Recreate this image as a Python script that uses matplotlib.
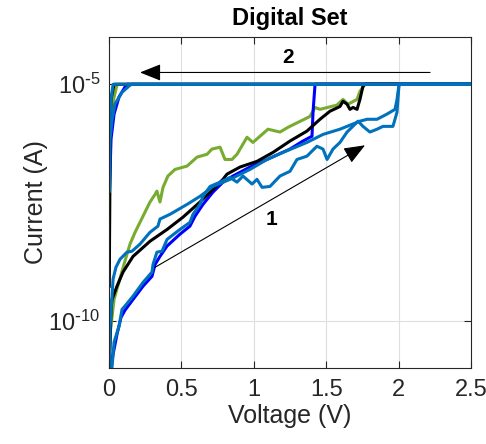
import numpy as np
import matplotlib
matplotlib.use("Agg")
import matplotlib.pyplot as plt
from matplotlib.ticker import FixedLocator, FixedFormatter, NullLocator

plt.rcParams['font.family'] = ['Liberation Sans', 'DejaVu Sans']
plt.rcParams['mathtext.default'] = 'regular'
plt.rcParams['axes.unicode_minus'] = False

# ---- data: voltage (V) and log10(current / A) ----
green_v = [0.0, 0.007, 0.035, 0.055, 0.110, 0.145, 0.180, 0.214, 0.283, 0.318, 0.331, 0.352, 0.373,
           0.407, 0.456, 0.539, 0.608, 0.677, 0.711, 0.767, 0.801, 0.849, 0.884, 0.953, 0.994, 1.098,
           1.181, 1.236, 1.388, 1.423, 1.457, 1.574, 1.616, 1.651, 1.713, 1.733, 1.768, 2.5,
           0.06, 0.055, 0.035, 0.014, 0.007, 0.002]
green_log = [-11.3, -10.29, -9.55, -9.33, -8.74, -8.38, -8.13, -7.92, -7.49, -7.33, -7.26, -7.49, -7.18,
             -6.94, -6.80, -6.73, -6.54, -6.48, -6.37, -6.33, -6.59, -6.59, -6.48, -6.12, -6.23, -5.95,
             -6.01, -5.91, -5.68, -5.49, -5.53, -5.44, -5.32, -5.42, -5.32, -5.15, -5.0, -5.0,
             -5.0, -5.02, -5.27, -5.70, -6.48, -8.76]

black_v = [0.0, 0.014, 0.021, 0.055, 0.097, 0.166, 0.283, 0.401, 0.511, 0.628, 0.698, 0.787, 0.815,
           0.905, 1.022, 1.133, 1.250, 1.367, 1.457, 1.526, 1.595, 1.616, 1.644, 1.664, 1.685, 1.713,
           1.733, 1.754, 1.768, 2.5,
           0.035, 0.014, 0.007, 0.003, 0.002]
black_log = [-11.3, -9.76, -9.55, -9.27, -8.97, -8.64, -8.32, -8.07, -7.81, -7.49, -7.28, -7.01, -6.90,
             -6.75, -6.63, -6.44, -6.20, -5.99, -5.74, -5.57, -5.47, -5.36, -5.42, -5.53, -5.49, -5.53,
             -5.32, -5.04, -5.0, -5.0,
             -5.0, -5.32, -6.16, -8.76, -9.27]

dblue_v = [0.0, 0.028, 0.055, 0.083, 0.110, 0.166, 0.235, 0.297, 0.318, 0.352, 0.401, 0.490, 0.559,
           0.594, 0.649, 0.718, 0.787, 0.856, 0.974, 1.091, 1.250, 1.340, 1.388, 1.402, 1.409, 1.423, 2.5,
           0.124, 0.110, 0.069, 0.035, 0.014, 0.003, 0.002]
dblue_log = [-11.3, -10.71, -10.29, -9.93, -9.78, -9.55, -9.27, -9.06, -8.81, -8.64, -8.42, -8.17, -8.00,
             -7.79, -7.54, -7.28, -7.07, -6.94, -6.75, -6.59, -6.37, -6.20, -6.12, -6.10, -5.59, -5.0, -5.0,
             -5.0, -5.06, -5.27, -5.63, -6.16, -7.28, -7.79]

lblueA_v = [0.0, 0.007, 0.014, 0.021, 0.028, 0.048, 0.076, 0.124, 0.159, 0.214, 0.283, 0.338, 0.352,
            0.421, 0.539, 0.628, 0.677, 0.718, 0.836, 0.974, 1.091, 1.202, 1.367, 1.478, 1.595, 1.733,
            1.782, 1.851, 1.920, 1.975, 1.989, 2.003, 2.5,
            0.159, 0.145, 0.090, 0.041, 0.021, 0.007, 0.003]
lblueA_log = [-11.3, -10.18, -9.76, -9.48, -9.12, -8.87, -8.70, -8.55, -8.53, -8.38, -8.13, -8.00, -7.85,
              -7.75, -7.54, -7.37, -7.26, -7.16, -7.01, -6.80, -6.59, -6.44, -6.23, -6.06, -5.95, -5.78,
              -5.74, -5.74, -5.63, -5.53, -5.32, -5.0, -5.0,
              -5.0, -5.02, -5.17, -5.42, -5.76, -6.16, -7.26]

lblueB_v = [0.0, 0.021, 0.035, 0.069, 0.090, 0.110, 0.166, 0.235, 0.297, 0.304, 0.331, 0.366, 0.401,
            0.490, 0.559, 0.580, 0.628, 0.649, 0.698, 0.767, 0.836, 0.884, 0.925, 0.988, 1.022, 1.057,
            1.112, 1.181, 1.250, 1.298, 1.367, 1.436, 1.478, 1.506, 1.547, 1.595, 1.644, 1.720, 1.754,
            1.802, 1.851, 1.892, 1.961, 1.989, 2.003, 2.5,
            0.028, 0.014, 0.007, 0.002]
lblueB_log = [-11.3, -10.98, -10.45, -10.12, -9.76, -9.69, -9.48, -9.19, -8.97, -8.81, -8.55, -8.53, -8.28,
              -8.07, -7.92, -7.75, -7.54, -7.37, -7.16, -7.07, -6.97, -7.07, -6.94, -7.11, -7.01, -7.18,
              -7.16, -6.94, -6.84, -6.59, -6.52, -6.31, -6.37, -6.59, -6.37, -6.23, -6.01, -5.78, -5.89,
              -6.01, -5.95, -5.89, -5.89, -5.59, -5.0, -5.0,
              -5.0, -5.32, -5.74, -6.27]

x_ticks = [0, 0.5, 1, 1.5, 2, 2.5]
x_tick_labels = ['0', '0.5', '1', '1.5', '2', '2.5']
y_ticks = [1e-10, 1e-5]
y_tick_labels = [r'$10^{\text{-}10}$', r'$10^{\text{-}5}$']

arrow1_start = (0.318, -8.87)
arrow1_end = (1.768, -6.29)
arrow1_label = (1.119, -7.85)
arrow2_start = (2.217, -4.75)
arrow2_end = (0.214, -4.75)
arrow2_label = (1.236, -4.43)

# ---- figure ----
fig = plt.figure(figsize=(4.86, 4.44), dpi=100)
ax = fig.add_axes([109/486, 76/444, 362/486, 331/444])

series = [
    (green_v, green_log, '#77AC30'),
    (dblue_v, dblue_log, '#0000FF'),
    (black_v, black_log, '#000000'),
    (lblueB_v, lblueB_log, '#0072BD'),
    (lblueA_v, lblueA_log, '#0072BD'),
]
for v, lg, c in series:
    ax.plot(v, 10.0 ** np.array(lg), color=c, lw=2.2, solid_joinstyle='round')

ax.set_yscale('log')
ax.set_xlim(0, 2.5)
ax.set_ylim(1e-11, 1e-4)
ax.xaxis.set_major_locator(FixedLocator(x_ticks))
ax.xaxis.set_major_formatter(FixedFormatter(x_tick_labels))
ax.yaxis.set_major_locator(FixedLocator(y_ticks))
ax.yaxis.set_major_formatter(FixedFormatter(y_tick_labels))
ax.yaxis.set_minor_locator(NullLocator())

ax.grid(True, color='#DFDFDF', lw=0.8)
ax.set_axisbelow(True)
ax.tick_params(direction='in', top=True, right=True, labelsize=17, colors='#262626',
               length=5, width=0.8, pad=8)
ax.tick_params(axis='y', pad=6)
for s in ax.spines.values():
    s.set_color('#262626')
    s.set_linewidth(0.8)

ax.set_xlabel('Voltage (V)', fontsize=18, color='#262626', labelpad=2)
ax.set_ylabel('Current (A)', fontsize=18, color='#262626', labelpad=0)
ax.set_title('Digital Set', fontsize=17, fontweight='bold', pad=9)

def to_pt(p):
    return (p[0], 10.0 ** p[1])

arrow_props = dict(arrowstyle='-|>,head_length=1.0,head_width=0.4', color='k', lw=0.8,
                   mutation_scale=13, shrinkA=0, shrinkB=0)
ax.annotate('', xy=to_pt(arrow1_end), xytext=to_pt(arrow1_start), arrowprops=arrow_props)
ax.annotate('', xy=to_pt(arrow2_end), xytext=to_pt(arrow2_start), arrowprops=arrow_props)
ax.text(*to_pt(arrow1_label), '1', fontsize=15, fontweight='bold', ha='center', va='center')
ax.text(*to_pt(arrow2_label), '2', fontsize=15, fontweight='bold', ha='center', va='center')

fig.savefig('out.png', dpi=100)
